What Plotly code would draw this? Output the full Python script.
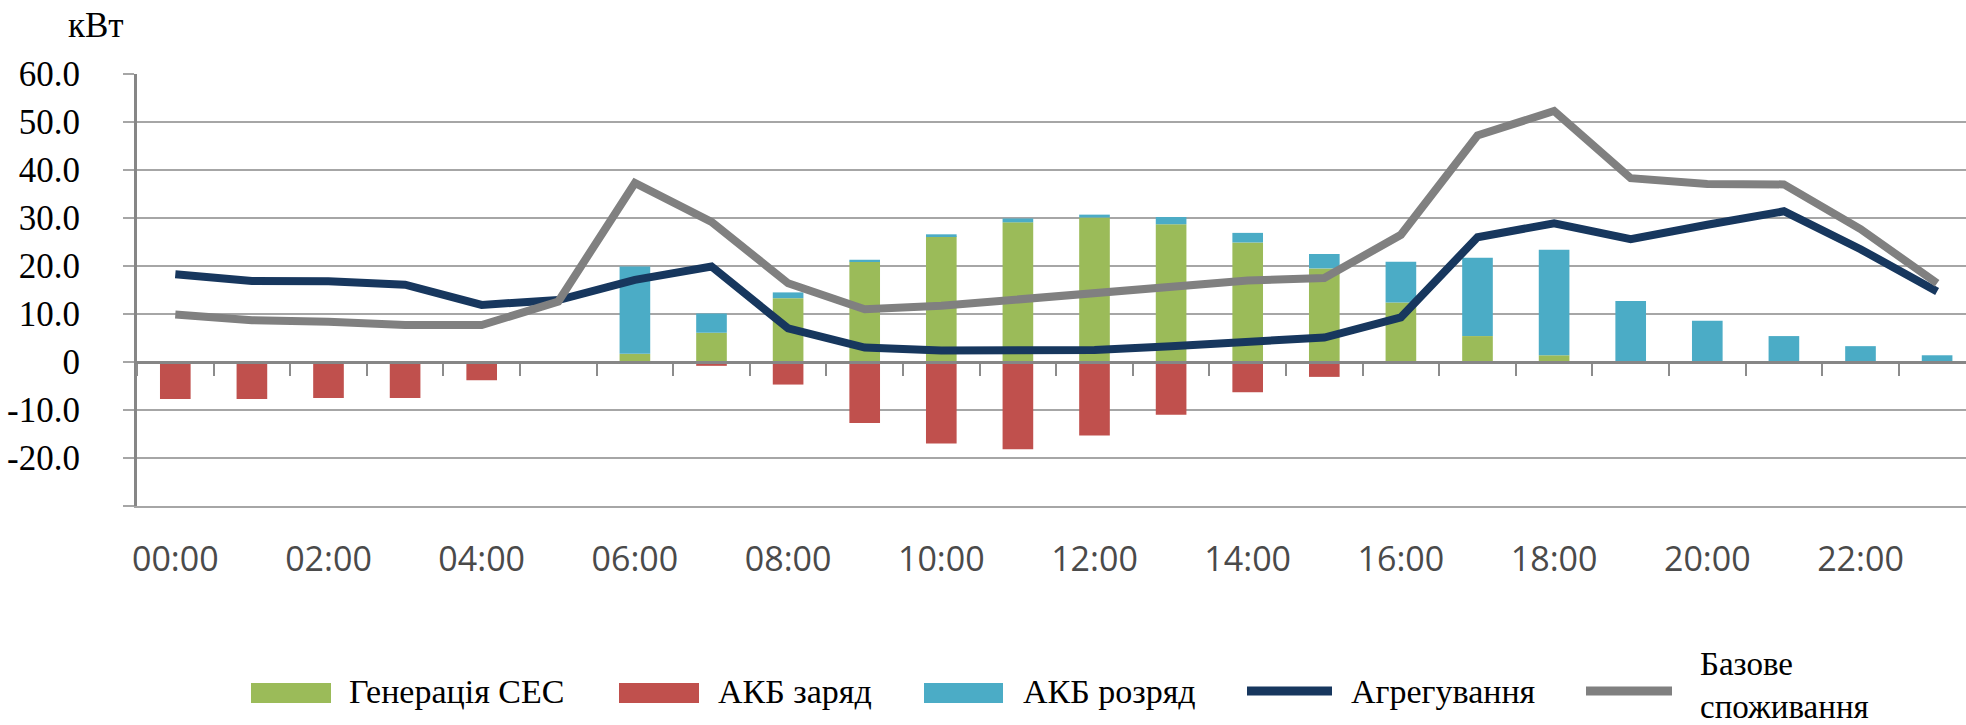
import plotly.graph_objects as go

# Hourly power balance, kW
hours = list(range(24))
hour_labels = [f"{h:02d}:00" for h in hours]

pv_generation = [0, 0, 0, 0, 0, 0, 1.7, 6.1, 13.3, 20.9, 26.2, 29.1,
                 30.1, 28.7, 24.9, 19.5, 12.4, 5.4, 1.4, 0, 0, 0, 0, 0]
battery_charge = [-7.7, -7.7, -7.5, -7.5, -3.8, -0.3, 0, -0.8, -4.7, -12.7, -17.0, -18.2,
                  -15.3, -11.0, -6.3, -3.1, -0.3, 0, 0, 0, 0, 0, 0, 0]
battery_discharge = [0, 0, 0, 0, 0, 0, 18.2, 4.0, 1.2, 0.4, 0.4, 0.8,
                     0.6, 1.5, 2.0, 3.0, 8.5, 16.3, 22.0, 12.7, 8.6, 5.4, 3.3, 1.4]
aggregated = [18.3, 16.9, 16.8, 16.1, 11.9, 12.9, 17.1, 19.9, 7.0, 3.0, 2.4, 2.3,
              2.5, 3.3, 4.2, 5.1, 9.3, 26.0, 28.9, 25.6, 28.6, 31.4, 23.5, 14.7]
base_load = [9.9, 8.7, 8.4, 7.7, 7.7, 12.6, 37.3, 29.2, 16.4, 11.0, 11.7, 13.1,
             14.5, 15.9, 17.0, 17.5, 26.5, 47.2, 52.3, 38.3, 37.1, 37.0, 27.7, 16.4]

y_ticks = [-30, -20, -10, 0, 10, 20, 30, 40, 50, 60]
y_tick_text = ["", "-20.0", "-10.0", "0", "10.0", "20.0", "30.0", "40.0", "50.0", "60.0"]

names = ["Генерація СЕС", "АКБ заряд", "АКБ розряд", "Агрегування", "Базове<br>споживання"]
GREEN, RED, BLUE = "#9BBB59", "#C0504D", "#4BACC6"
NAVY, GREY = "#17375E", "#808080"
GRID = "#a6a6a6"
AXIS = "#868686"

W, H = 1966, 725
ML, MR, MT, MB = 137, 0, 74, 219
PW, PH = W - ML - MR, H - MT - MB
Y_MIN, Y_MAX = y_ticks[0], y_ticks[-1]
X_RANGE = [-0.5, -0.5 + PW / 76.6]
SERIF = "Liberation Serif, Times New Roman, serif"


def px_x(p):
    return (p - ML) / PW


def px_y(p):
    return (H - MB - p) / PH


def val_y(v):
    return (v - Y_MIN) / (Y_MAX - Y_MIN)


fig = go.Figure()
fig.add_bar(x=hours, y=pv_generation, name=names[0], marker_color=GREEN, marker_line_width=0)
fig.add_bar(x=hours, y=battery_charge, name=names[1], marker_color=RED, marker_line_width=0)
fig.add_bar(x=hours, y=battery_discharge, name=names[2], marker_color=BLUE, marker_line_width=0)
fig.add_scatter(x=hours, y=aggregated, name=names[3], mode="lines",
                line=dict(color=NAVY, width=8))
fig.add_scatter(x=hours, y=base_load, name=names[4], mode="lines",
                line=dict(color=GREY, width=8))
# invisible carrier so the category-boundary axis at zero is rendered
fig.add_scatter(x=hours, y=aggregated, xaxis="x2", mode="lines", opacity=0,
                line=dict(width=0), showlegend=False, hoverinfo="skip")

shapes = []
annotations = []

# Legend drawn below the plot: swatches + labels
legend_y = 693
swatches = [(251, 331, GREEN, "rect"), (619, 699, RED, "rect"), (924, 1003, BLUE, "rect"),
            (1247, 1332, NAVY, "line"), (1586, 1672, GREY, "line")]
label_x = [347, 716, 1021, 1349, 1698]
for (x0, x1, col, kind), lx, nm in zip(swatches, label_x, names):
    if kind == "rect":
        shapes.append(dict(type="rect", xref="paper", yref="paper",
                           x0=px_x(x0), x1=px_x(x1),
                           y0=px_y(legend_y + 10), y1=px_y(legend_y - 10),
                           fillcolor=col, line_width=0))
    else:
        shapes.append(dict(type="line", xref="paper", yref="paper",
                           x0=px_x(x0), x1=px_x(x1),
                           y0=px_y(legend_y - 2), y1=px_y(legend_y - 2),
                           line=dict(color=col, width=9)))
    two_line = "<br>" in nm
    annotations.append(dict(text=nm, xref="paper", yref="paper",
                            x=px_x(lx), y=px_y(685 if two_line else legend_y - 2),
                            xanchor="left", yanchor="middle", showarrow=False, align="left",
                            font=dict(family=SERIF, size=33 if two_line else 34,
                                      color="#000000")))

annotations.append(dict(text="кВт", xref="paper", yref="paper", x=px_x(96), y=px_y(26),
                        xanchor="center", yanchor="middle", showarrow=False,
                        font=dict(family=SERIF, size=35, color="#000000")))

fig.update_layout(
    width=W, height=H,
    margin=dict(l=ML, r=MR, t=MT, b=MB, pad=0),
    paper_bgcolor="white", plot_bgcolor="white",
    barmode="relative", bargap=0.6,
    showlegend=False,
    hovermode=False,
    shapes=shapes,
    annotations=annotations,
    # bottom axis: hour labels and the lowest rule
    xaxis=dict(
        range=X_RANGE,
        anchor="y", side="bottom",
        showgrid=False, zeroline=False,
        showline=True, linecolor=GRID, linewidth=2,
        tickmode="array", tickvals=hours[::2], ticktext=hour_labels[::2],
        ticks="", ticklabelstandoff=22,
        tickfont=dict(family="Open Sans, sans-serif", size=34, color="#4a4a4a"),
    ),
    # axis line through zero with ticks at every hour boundary
    xaxis2=dict(
        range=X_RANGE,
        overlaying="x", anchor="free", position=val_y(0),
        showgrid=False, zeroline=False, showticklabels=False,
        showline=True, linecolor=AXIS, linewidth=3,
        tickmode="array", tickvals=hours, ticks="",
        minor=dict(tickmode="array", tickvals=[h - 0.5 for h in hours],
                   ticks="outside", ticklen=12, tickwidth=2, tickcolor="#8c8c8c",
                   showgrid=False),
    ),
    yaxis=dict(
        range=[Y_MIN, Y_MAX],
        tickmode="array", tickvals=y_ticks, ticktext=y_tick_text,
        showgrid=True, gridcolor=GRID, gridwidth=2,
        zeroline=False,
        showline=True, linecolor=AXIS, linewidth=3,
        ticks="outside", ticklen=11, tickwidth=2, tickcolor=GRID,
        ticklabelstandoff=36,
        tickfont=dict(family=SERIF, size=35, color="#000000"),
    ),
)

fig.write_html("out.html")
